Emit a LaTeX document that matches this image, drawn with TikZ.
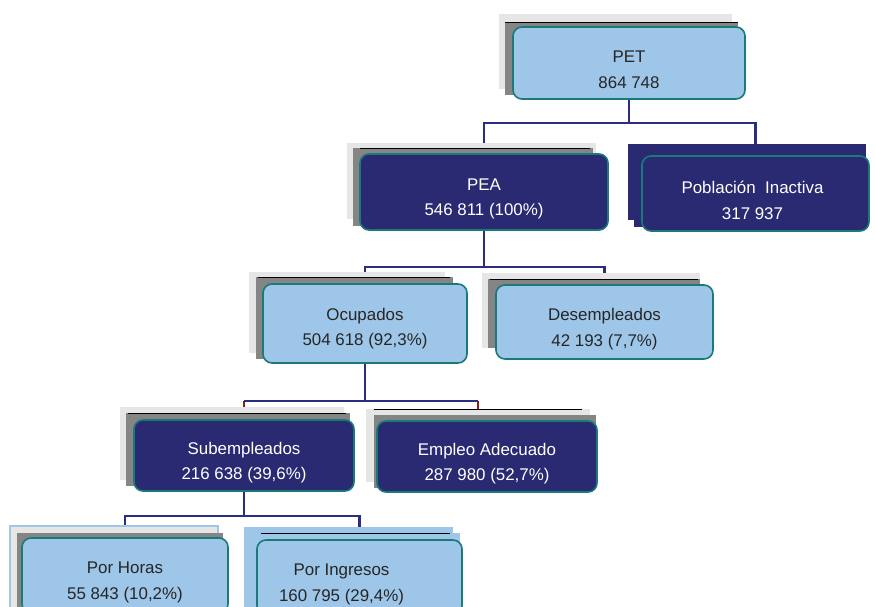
\documentclass[tikz,border=0pt]{standalone}
\usepackage{fontspec}
\setmainfont{Liberation Sans}
\usetikzlibrary{backgrounds}
\definecolor{navy}{RGB}{42,42,114}
\definecolor{skyfill}{RGB}{158,198,232}
\definecolor{tealedge}{RGB}{26,122,122}
\definecolor{linenavy}{RGB}{43,46,126}
\definecolor{tickred}{RGB}{140,26,26}
\definecolor{grayA}{RGB}{230,230,230}
\definecolor{grayB}{RGB}{133,133,133}
\definecolor{inktext}{RGB}{38,38,38}
\begin{document}
\begin{tikzpicture}[x=1pt, y=-1pt,
  box/.style={rectangle, rounded corners=9pt, draw=tealedge, line width=1.6pt},
  darkbox/.style={box, fill=navy},
  lightbox/.style={box, fill=skyfill},
  txt/.style={inner sep=0pt, align=center, font=\fontsize{16.9}{25.5}\selectfont, yshift=-7pt},
  wtxt/.style={txt, text=white},
  ktxt/.style={txt, text=inktext},
  conn/.style={draw=linenavy, line width=2.8pt},
  shlt/.style={fill=grayA},
  shdk/.style={fill=grayB},
  topline/.style={draw=black, line width=0.8pt}]
\useasboundingbox (0,0) rectangle (875,607);
\node[lightbox, minimum width=232pt, minimum height=72pt, label={[ktxt]center:{PET\\864 748}}] (pet) at (629,63) {};
\node[darkbox, minimum width=248pt, minimum height=76pt, label={[wtxt]center:{PEA\\546 811 (100\%)}}] (pea) at (484,192) {};
\node[darkbox, minimum width=227pt, minimum height=75pt, label={[wtxt, xshift=-3pt]center:{Población\ \ Inactiva\\317 937}}] (inac) at (755.5,193.5) {};
\node[lightbox, minimum width=204pt, minimum height=79pt, label={[ktxt, yshift=2pt]center:{Ocupados\\504 618 (92,3\%)}}] (ocu) at (365,323.5) {};
\node[lightbox, minimum width=217pt, minimum height=74pt, label={[ktxt]center:{Desempleados\\42 193 (7,7\%)}}] (des) at (604.5,322) {};
\node[darkbox, minimum width=220pt, minimum height=71pt, label={[wtxt]center:{Subempleados\\216 638 (39,6\%)}}] (sub) at (244,455.5) {};
\node[darkbox, minimum width=220pt, minimum height=71pt, label={[wtxt]center:{Empleo Adecuado\\287 980 (52,7\%)}}] (ade) at (487,456.5) {};
\node[lightbox, minimum width=206pt, minimum height=75pt, label={[ktxt]center:{Por Horas\\55 843 (10,2\%)}}] (hor) at (125,575.5) {};
\node[lightbox, minimum width=205pt, minimum height=75pt, label={[ktxt, xshift=-18pt]center:{Por Ingresos\\160 795 (29,4\%)}}] (ing) at (359.5,577.5) {};
\coordinate (adetop) at ([xshift=-9pt]ade.north);
\begin{scope}[on background layer]
% connectors
\draw[conn] (pet.south) -- (pet.south |- 0,123);
\draw[conn] (pea.north) |- (inac.north |- 0,123) -- (inac.north);
\draw[conn] (pea.south) -- (pea.south |- 0,267);
\draw[conn] (ocu.north) |- (des.north |- 0,267) -- (des.north);
\draw[conn] (ocu.south) -- (ocu.south |- 0,401);
\draw[draw=tickred, line width=1.6pt] (sub.north) -- (sub.north |- 0,401);
\draw[draw=tickred, line width=1.6pt] (adetop) -- (adetop |- 0,401);
\draw[conn] (sub.north |- 0,401) -- (adetop |- 0,401);
\draw[conn] (sub.south) -- (sub.south |- 0,516);
\draw[conn] (hor.north) |- (ing.north |- 0,516) -- (ing.north);
% shadows
\fill[shlt] (499,14) rectangle (732,89);
\fill[shdk] (505,22) rectangle (738,95);
\draw[topline] (505,22) -- (738,22);
\fill[shlt] (347,143) rectangle (596,219);
\fill[shdk] (353,148) rectangle (593,226);
\draw[topline] (360,148) -- (590,148);
\fill[navy] (628,144) rectangle (866,220);
\fill[navy] (634,149) rectangle (866,227);
\fill[shlt] (249,272) rectangle (445,353);
\fill[shdk] (256,277) rectangle (453,359);
\draw[topline] (258,277) -- (450,277);
\fill[shlt] (482,273) rectangle (700,348);
\fill[shdk] (488,279) rectangle (700,348);
\draw[topline] (490,279) -- (698,279);
\fill[shlt] (120,407) rectangle (344,480);
\fill[shdk] (126,413) rectangle (350,486);
\draw[topline] (128,413) -- (346,413);
\fill[shlt] (366,409) rectangle (590,482);
\fill[shdk] (374,415) rectangle (596,488);
\draw[topline] (374,409) -- (582,409);
\filldraw[fill=grayA, draw=skyfill, line width=1.2pt] (10,526) rectangle (218,612);
\fill[shdk] (17,533) rectangle (223,612);
\fill[skyfill] (244,527) rectangle (453,612);
\fill[skyfill] (252,533) rectangle (460,612);
\draw[topline] (261,533) -- (450,533);
\end{scope}
\end{tikzpicture}
\end{document}
